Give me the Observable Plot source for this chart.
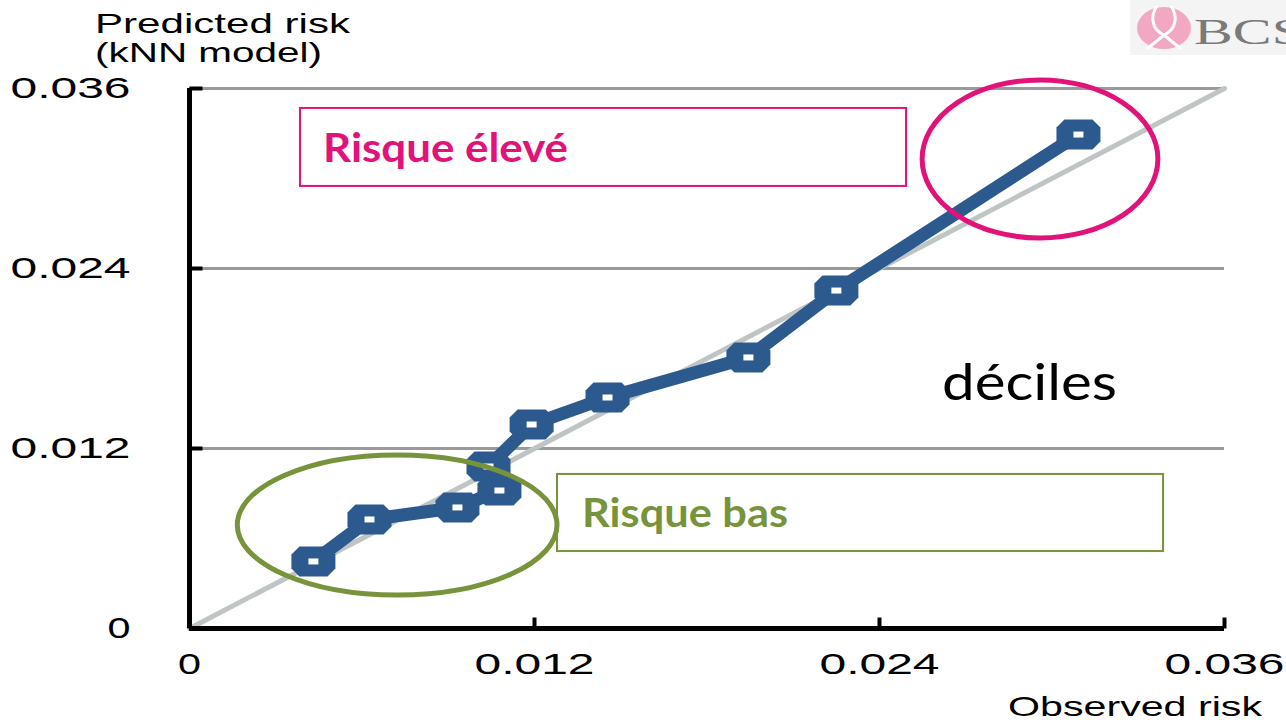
<!DOCTYPE html>
<html><head><meta charset="utf-8">
<script src="https://cdn.jsdelivr.net/npm/d3@7"></script>
<script src="https://cdn.jsdelivr.net/npm/@observablehq/plot@0.6"></script>
<style>
body{margin:0;background:#fff;overflow:hidden}
#chart{position:relative;width:1286px;height:722px}
</style>
</head><body><div id="chart"></div>
<script>
// ---- data ----
const observedRisk  = [0.00431, 0.00626, 0.00932, 0.01078, 0.0104, 0.0119, 0.01454, 0.01944, 0.0225, 0.03092];
const predictedRisk = [0.00447, 0.00727, 0.00807, 0.0092, 0.0108, 0.0136, 0.0154, 0.01807, 0.02253, 0.03293];
const tickValues = [0, 0.012, 0.024, 0.036];
const tickLabels = ["0", "0.012", "0.024", "0.036"];
const referenceLine = [0, 0.036];
const xTitle = "Observed risk";
const yTitle = ["Predicted risk", "(kNN model)"];
const labelHigh = "Risque élevé";
const labelLow = "Risque bas";
const labelDeciles = "déciles";
const logoText = "BCS";

// ---- styles / annotation layout (data units) ----
const BLUE = "#2D5A8E", PINK = "#E2127B", GREEN = "#77933C";
const boxHigh = {x1: 0.00386, x2: 0.02494, y1: 0.02947, y2: 0.03467};
const boxLow  = {x1: 0.0128,  x2: 0.03388, y1: 0.00513, y2: 0.01027};
const ellHigh = {cx: 0.0296, cy: 0.03127, rx: 0.0041, ry: 0.00527};
const ellLow  = {cx: 0.00724, cy: 0.00687, rx: 0.00556, ry: 0.00467};

const points = observedRisk.map((x, i) => ({x, y: predictedRisk[i]}));
const diag = referenceLine.map(v => ({x: v, y: v}));

const markerSymbol = {draw(ctx) {
  const w = 22, h = 15, c = 8;
  ctx.moveTo(-w + c, -h); ctx.lineTo(w - c, -h); ctx.lineTo(w, -h + c); ctx.lineTo(w, h - c);
  ctx.lineTo(w - c, h); ctx.lineTo(-w + c, h); ctx.lineTo(-w, h - c); ctx.lineTo(-w, -h + c); ctx.closePath();
}};
const innerSymbol = {draw(ctx) { ctx.rect(-5, -3, 10, 6); }};
const yTickSym = {draw(ctx) { ctx.moveTo(0, 0); ctx.lineTo(13, 0); }};
const xTickSym = {draw(ctx) { ctx.moveTo(0, 0); ctx.lineTo(0, -11); }};

const chart = Plot.plot({
  width: 1286, height: 722,
  marginLeft: 189, marginRight: 62, marginTop: 88, marginBottom: 94,
  x: {domain: [0, 0.036], axis: null},
  y: {domain: [0, 0.036], axis: null},
  style: {background: "#fff", overflow: "visible"},
  marks: [
    Plot.ruleY(tickValues.filter(d => d > 0), {stroke: "#9A9A9A", strokeWidth: 3}),
    Plot.line(diag, {x: "x", y: "y", stroke: "#BFC4C4", strokeWidth: 5}),
    Plot.rect([boxHigh], {x1: "x1", x2: "x2", y1: "y1", y2: "y2", fill: "none", stroke: PINK, strokeWidth: 2}),
    Plot.rect([boxLow], {x1: "x1", x2: "x2", y1: "y1", y2: "y2", fill: "none", stroke: GREEN, strokeWidth: 2}),
    Plot.ruleX([0], {stroke: "#000", strokeWidth: 5}),
    Plot.ruleY([0], {stroke: "#000", strokeWidth: 5}),
    Plot.dot(tickValues, {x: 0, y: d => d, symbol: yTickSym, stroke: "#000", strokeWidth: 4, fill: "none"}),
    Plot.dot(tickValues, {x: d => d, y: 0, symbol: xTickSym, stroke: "#000", strokeWidth: 4, fill: "none"}),
    Plot.text(tickValues, {x: 0, y: d => d, text: (d, i) => tickLabels[i], textAnchor: "end", lineAnchor: "middle", dx: -59,
      fontSize: 30, fontFamily: "Liberation Sans", fill: "#000"}),
    Plot.text(tickValues, {x: d => d, y: 0, text: (d, i) => tickLabels[i], textAnchor: "middle", lineAnchor: "middle", dy: 36,
      fontSize: 30, fontFamily: "Liberation Sans", fill: "#000"}),
    Plot.line(points, {x: "x", y: "y", stroke: BLUE, strokeWidth: 13, strokeLinejoin: "round"}),
    Plot.dot(points, {x: "x", y: "y", symbol: markerSymbol, fill: BLUE}),
    Plot.dot(points, {x: "x", y: "y", symbol: innerSymbol, fill: "#fff"}),
  ]
});
document.getElementById("chart").appendChild(chart);

const svg = d3.select(chart);

// stretch Plot's tick labels horizontally like the reference (only texts present so far)
svg.selectAll("text").each(function() {
  const s = this.textContent.trim();
  const w = s === "0" ? 23 : 120;
  this.setAttribute("textLength", w);
  this.setAttribute("lengthAdjust", "spacingAndGlyphs");
});

const sx = chart.scale("x"), sy = chart.scale("y");
const X = v => sx.apply(v), Y = v => sy.apply(v);

function addEllipse(e, color) {
  svg.append("ellipse")
    .attr("cx", X(e.cx)).attr("cy", Y(e.cy))
    .attr("rx", X(e.cx + e.rx) - X(e.cx)).attr("ry", Y(e.cy) - Y(e.cy + e.ry))
    .attr("fill", "none").attr("stroke", color).attr("stroke-width", 5);
}
addEllipse(ellHigh, PINK);
addEllipse(ellLow, GREEN);

function addText(str, x, y, opts) {
  const t = svg.append("text").attr("x", x).attr("y", y).text(str)
    .attr("font-family", opts.family).attr("font-size", opts.size)
    .attr("font-weight", opts.weight || "normal").attr("fill", opts.fill || "#000")
    .attr("text-anchor", opts.anchor || "start");
  if (opts.width) t.attr("textLength", opts.width).attr("lengthAdjust", "spacingAndGlyphs");
  return t;
}
addText(labelHigh, 323, 162, {family: "Lato", size: 40, weight: "bold", fill: PINK, width: 245});
addText(labelLow, 582, 527, {family: "Lato", size: 40, weight: "bold", fill: GREEN, width: 206});
addText(labelDeciles, 942, 400, {family: "Lato", size: 50, fill: "#000", width: 175});
addText(yTitle[0], 95, 33, {family: "Liberation Sans", size: 28, width: 255});
addText(yTitle[1], 95, 62, {family: "Liberation Sans", size: 28, width: 227});
addText(xTitle, 1008, 716, {family: "Liberation Sans", size: 28, width: 254});

// logo
const logo = svg.append("g");
logo.append("rect").attr("x", 1130).attr("y", 0).attr("width", 156).attr("height", 55).attr("fill", "#F4F4F4");
logo.append("ellipse").attr("cx", 1164).attr("cy", 28).attr("rx", 27).attr("ry", 21).attr("fill", "#F2A7C3");
logo.append("path").attr("d", "M1157,6 C1149,18 1153,30 1164,35 C1175,30 1179,18 1171,6")
  .attr("fill", "none").attr("stroke", "#fff").attr("stroke-width", 3);
logo.append("path").attr("d", "M1164,35 L1147,49 M1164,35 L1181,49")
  .attr("fill", "none").attr("stroke", "#fff").attr("stroke-width", 3);
addText(logoText, 1194, 44, {family: "Liberation Serif", size: 36, fill: "#7A7A7A", width: 110});
</script>
</body></html>
